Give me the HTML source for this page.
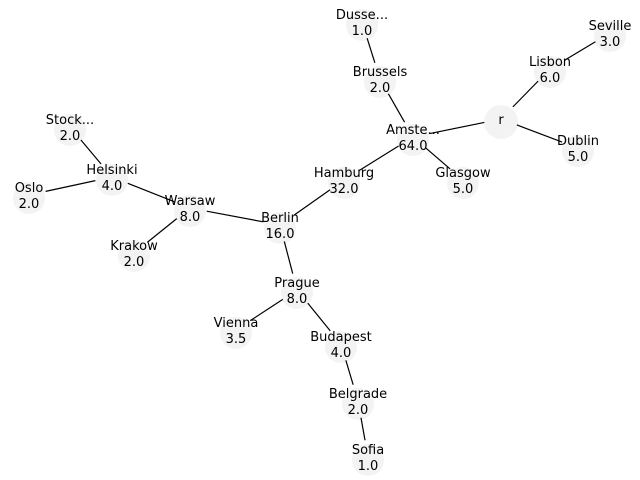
<!DOCTYPE html>
<html><head><meta charset="utf-8"><style>html,body{margin:0;padding:0;background:#fff}svg{display:block}</style></head>
<body>
<svg width="640" height="480" xmlns="http://www.w3.org/2000/svg" font-family="DejaVu Sans, Liberation Sans, sans-serif" font-size="13" text-anchor="middle">
<g id="c" fill="#f3f3f3"></g>
<g id="l" stroke="#000" stroke-width="1.2"></g>
<g id="t" fill="#000"></g>
<script>
var N={r:[501,119,'r',null,17],Am:[413,137,'Amste...','64.0'],Br:[380,79,'Brussels','2.0'],Du:[362,22,'Dusse...','1.0'],Li:[550,69,'Lisbon','6.0'],Se:[610,33,'Seville','3.0'],Db:[578,148,'Dublin','5.0'],Gl:[463,180,'Glasgow','5.0'],Ha:[344,180,'Hamburg','32.0'],Be:[280,225,'Berlin','16.0'],Wa:[190,208,'Warsaw','8.0'],He:[112,177,'Helsinki','4.0'],St:[70,127,'Stock...','2.0'],Os:[29,195,'Oslo','2.0'],Kr:[134,253,'Krakow','2.0'],Pr:[297,290,'Prague','8.0'],Vi:[236,330,'Vienna','3.5'],Bu:[341,344,'Budapest','4.0'],Bg:[358,401,'Belgrade','2.0'],So:[368,457,'Sofia','1.0']};
var E=[['r','Am'],['r','Li'],['Li','Se'],['r','Db'],['Am','Br'],['Br','Du'],['Am','Gl'],['Am','Ha'],['Ha','Be'],['Be','Wa'],['Wa','He'],['He','St'],['He','Os'],['Wa','Kr'],['Be','Pr'],['Pr','Vi'],['Pr','Bu'],['Bu','Bg'],['Bg','So']];
var ns='http://www.w3.org/2000/svg';
function el(g,n,a,txt){var e=document.createElementNS(ns,n);for(var k in a)e.setAttribute(k,a[k]);if(txt)e.textContent=txt;document.getElementById(g).appendChild(e);}
for(var k in N){var n=N[k];el('c','circle',{cx:n[0],cy:n[1]+3,r:n[4]||16});
 if(n[3]===null){el('t','text',{x:n[0],y:n[1]+5},n[2]);}
 else{el('t','text',{x:n[0],y:n[1]-3},n[2]);el('t','text',{x:n[0],y:n[1]+13},n[3]);}}
E.forEach(function(e){var a=N[e[0]],b=N[e[1]];var dx=b[0]-a[0],dy=b[1]-a[1],d=Math.sqrt(dx*dx+dy*dy),s=17;
el('l','line',{x1:a[0]+dx*s/d,y1:a[1]+dy*s/d,x2:b[0]-dx*s/d,y2:b[1]-dy*s/d});});
</script>
</svg>
</body></html>
